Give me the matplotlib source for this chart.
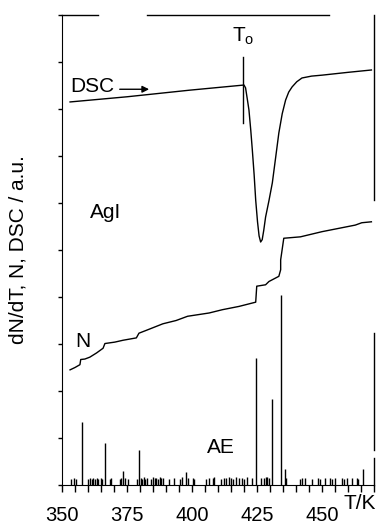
import numpy as np
import matplotlib.pyplot as plt

plt.rcParams['font.family'] = ['Liberation Sans', 'DejaVu Sans']

# DSC curve (T/K, a.u.)
dsc_t = [353.1, 375.0, 399.0, 420.0, 420.6, 421.3, 421.9, 422.6, 423.2, 423.9,
         424.5, 425.2, 425.8, 426.4, 427.0, 427.6, 428.3, 429.6, 430.9, 432.2,
         433.4, 434.7, 436.0, 437.2, 438.5, 440.3, 442.3, 446.0, 450.0, 460.0, 469.0]
dsc_y = [8.15, 8.26, 8.40, 8.51, 8.45, 8.20, 7.98, 7.55, 7.13, 6.60,
         6.06, 5.60, 5.30, 5.17, 5.22, 5.42, 5.70, 6.05, 6.43, 6.98,
         7.49, 7.90, 8.19, 8.36, 8.47, 8.58, 8.66, 8.70, 8.72, 8.78, 8.83]

# cumulative AE counts N
n_t = [353.1, 355.0, 356.9, 357.2, 358.8, 360.7, 363.3, 365.8, 366.5, 370.3,
       373.5, 378.6, 379.6, 382.4, 388.8, 393.9, 398.3, 406.6, 411.7, 418.1,
       424.5, 424.9, 428.3, 429.6, 433.4, 434.1, 434.1, 435.3, 441.7, 450.0,
       456.4, 462.8, 465.3, 469.0]
n_y = [2.45, 2.50, 2.56, 2.67, 2.68, 2.72, 2.81, 2.91, 3.01, 3.04,
       3.08, 3.13, 3.23, 3.29, 3.43, 3.50, 3.59, 3.66, 3.73, 3.80,
       3.89, 4.23, 4.26, 4.33, 4.44, 4.58, 4.79, 5.25, 5.28, 5.39,
       5.46, 5.53, 5.58, 5.60]

# AE events dN/dT
ae_t = [353.4, 354.6, 355.4, 357.5, 360.1, 360.7, 361.4, 362.0, 362.6, 363.3,
        363.9, 364.9, 365.4, 366.5, 368.4, 369.0, 372.2, 372.8, 373.6, 374.4,
        375.4, 379.0, 379.5, 380.2, 380.7, 381.5, 382.0, 382.8, 384.3, 384.9,
        385.6, 386.2, 386.9, 387.5, 388.2, 388.8, 391.3, 393.2, 395.4, 396.2,
        397.5, 398.3, 400.2, 400.9, 405.4, 406.6, 407.9, 408.6, 411.1, 412.4,
        413.0, 414.3, 414.9, 415.6, 416.9, 418.1, 419.4, 420.0, 421.3, 423.2,
        424.8, 426.4, 427.7, 428.3, 429.0, 429.6, 430.9, 434.3, 435.6, 436.0,
        441.7, 442.3, 443.6, 446.2, 448.5, 449.1, 451.3, 453.2, 453.8, 455.1,
        457.7, 458.3, 459.6, 461.5, 463.4, 464.0, 465.7]
ae_h = [0.13, 0.15, 0.12, 1.34, 0.13, 0.15, 0.12, 0.15, 0.13, 0.15,
        0.12, 0.14, 0.13, 0.89, 0.12, 0.14, 0.13, 0.15, 0.30, 0.14,
        0.12, 0.13, 0.74, 0.15, 0.13, 0.16, 0.12, 0.15, 0.13, 0.16,
        0.14, 0.15, 0.12, 0.16, 0.14, 0.15, 0.13, 0.15, 0.12, 0.16,
        0.28, 0.14, 0.15, 0.12, 0.13, 0.15, 0.14, 0.16, 0.13, 0.15,
        0.14, 0.16, 0.15, 0.13, 0.16, 0.15, 0.14, 0.13, 0.16, 0.15,
        2.70, 0.14, 0.15, 0.16, 0.18, 0.14, 1.82, 4.05, 0.33, 0.15,
        0.13, 0.15, 0.14, 0.13, 0.15, 0.13, 0.14, 0.15, 0.13, 0.14,
        0.15, 0.13, 0.15, 0.14, 0.15, 0.13, 0.33]

x_labels = [350, 375, 400, 425, 450]

fig = plt.figure(figsize=(3.8, 5.26), dpi=100)
ax = fig.add_axes([62 / 380, 41 / 526, 312 / 380, 470 / 526])

ax.plot(dsc_t, dsc_y, color='black', lw=1.0)
ax.plot(n_t, n_y, color='black', lw=1.0)
ax.vlines(ae_t, 0, ae_h, color='black', lw=1.0)

# onset temperature marker
ax.plot([419.8, 419.8], [7.70, 9.11], color='black', lw=1.0)
ax.text(415.4, 9.55, r'$\mathregular{T_o}$', fontsize=15, ha='left', va='center')

ax.text(353.1, 8.47, 'DSC', fontsize=15, ha='left', va='center')
ax.annotate('', xy=(383.5, 8.42), xytext=(372.2, 8.42),
            arrowprops=dict(arrowstyle='-|>', color='black', lw=1.0,
                            mutation_scale=10, shrinkA=0, shrinkB=0))
ax.text(360.7, 5.79, 'AgI', fontsize=15, ha='left', va='center')
ax.text(355.0, 3.06, 'N', fontsize=15, ha='left', va='center')
ax.text(405.9, 0.79, 'AE', fontsize=15, ha='left', va='center')

ax.set_xlim(350, 470)
ax.set_ylim(0, 10)
ax.set_xticks(x_labels)
ax.set_xticks(np.arange(350, 471, 5), minor=True)
ax.set_yticks(np.arange(0, 11, 1))
ax.set_yticklabels([])
ax.tick_params(axis='x', which='both', direction='out', length=5, width=1,
               labelsize=14.5, pad=10)
ax.tick_params(axis='y', direction='out', length=3, width=1)
ax.set_ylabel('dN/dT, N, DSC / a.u.', fontsize=15, labelpad=18)
ax.text(0.903, -0.040, 'T/K', fontsize=15, ha='left', va='center',
        transform=ax.transAxes, clip_on=False)

# broken frame as in the scanned original
ax.spines['top'].set_visible(False)
ax.spines['right'].set_visible(False)
for xs, ys in [([0, 0.116], [1, 1]), ([0.273, 0.855], [1, 1]),
               ([1, 1], [1, 0.606]), ([1, 1], [0.323, 0.075]),
               ([1, 1], [0.057, 0])]:
    ax.plot(xs, ys, color='black', lw=1.0, transform=ax.transAxes, clip_on=False)

fig.savefig('out.png', dpi=100)
